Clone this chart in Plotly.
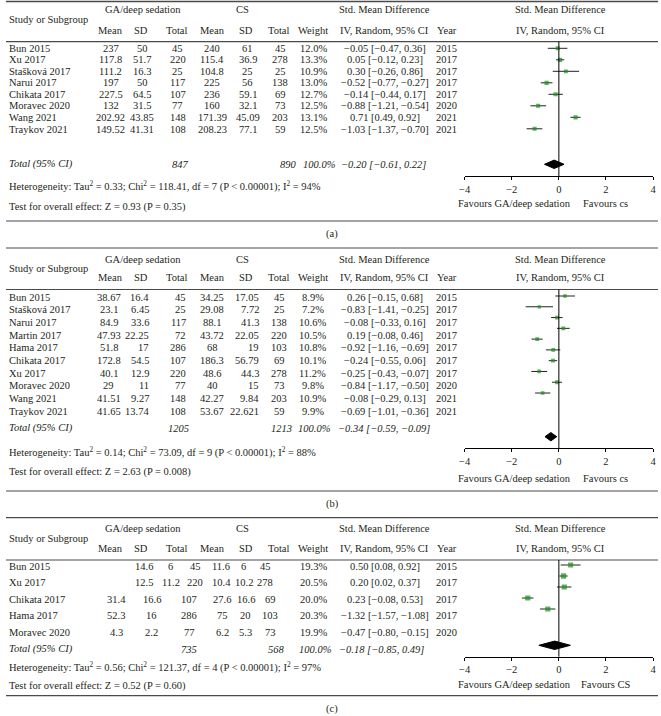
import plotly.graph_objects as go

W, H = 661, 716
FONT = "'Liberation Serif', 'DejaVu Serif', 'Times New Roman', serif"
FS = 10.5
INK = "#231f20"
GREEN = "#1a8f1a"

# ---------------- data: panel (a) ----------------
a_study = ["Bun 2015", "Xu 2017", "Stašková 2017", "Narui 2017", "Chikata 2017",
           "Moravec 2020", "Wang 2021", "Traykov 2021"]
a_ga_mean = ["237", "117.8", "111.2", "197", "227.5", "132", "202.92", "149.52"]
a_ga_sd = ["50", "51.7", "16.3", "50", "64.5", "31.5", "43.85", "41.31"]
a_ga_n = [45, 220, 25, 117, 107, 77, 148, 108]
a_cs_mean = ["240", "115.4", "104.8", "225", "236", "160", "171.39", "208.23"]
a_cs_sd = ["61", "36.9", "25", "56", "59.1", "32.1", "45.09", "77.1"]
a_cs_n = [45, 278, 25, 138, 69, 73, 203, 59]
a_weight = [12.0, 13.3, 10.9, 13.0, 12.7, 12.5, 13.1, 12.5]
a_smd = [-0.05, 0.05, 0.30, -0.52, -0.14, -0.88, 0.71, -1.03]
a_lo = [-0.47, -0.12, -0.26, -0.77, -0.44, -1.21, 0.49, -1.37]
a_hi = [0.36, 0.23, 0.86, -0.27, 0.17, -0.54, 0.92, -0.70]
a_year = [2015, 2017, 2017, 2017, 2017, 2020, 2021, 2021]
a_total_n = [847, 890]
a_total_ci = [-0.20, -0.61, 0.22]
a_het = ["0.33", "118.41", "7", "< 0.00001", "94%"]
a_test = ["0.93", "= 0.35"]
a_favours = ["Favours GA/deep sedation", "Favours cs"]

# ---------------- data: panel (b) ----------------
b_study = ["Bun 2015", "Stašková 2017", "Narui 2017", "Martin 2017", "Hama 2017",
           "Chikata 2017", "Xu 2017", "Moravec 2020", "Wang 2021", "Traykov 2021"]
b_ga_mean = ["38.67", "23.1", "84.9", "47.93", "51.8", "172.8", "40.1", "29", "41.51", "41.65"]
b_ga_sd = ["16.4", "6.45", "33.6", "22.25", "17", "54.5", "12.9", "11", "9.27", "13.74"]
b_ga_n = [45, 25, 117, 72, 286, 107, 220, 77, 148, 108]
b_cs_mean = ["34.25", "29.08", "88.1", "43.72", "68", "186.3", "48.6", "40", "42.27", "53.67"]
b_cs_sd = ["17.05", "7.72", "41.3", "22.05", "19", "56.79", "44.3", "15", "9.84", "22.621"]
b_cs_n = [45, 25, 138, 220, 103, 69, 278, 73, 203, 59]
b_weight = [8.9, 7.2, 10.6, 10.5, 10.8, 10.1, 11.2, 9.8, 10.9, 9.9]
b_smd = [0.26, -0.83, -0.08, 0.19, -0.92, -0.24, -0.25, -0.84, -0.08, -0.69]
b_lo = [-0.15, -1.41, -0.33, -0.08, -1.16, -0.55, -0.43, -1.17, -0.29, -1.01]
b_hi = [0.68, -0.25, 0.16, 0.46, -0.69, 0.06, -0.07, -0.50, 0.13, -0.36]
b_year = [2015, 2017, 2017, 2017, 2017, 2017, 2017, 2020, 2021, 2021]
b_total_n = [1205, 1213]
b_total_ci = [-0.34, -0.59, -0.09]
b_het = ["0.14", "73.09", "9", "< 0.00001", "88%"]
b_test = ["2.63", "= 0.008"]
b_favours = ["Favours GA/deep sedation", "Favours cs"]

# ---------------- data: panel (c) ----------------
c_study = ["Bun 2015", "Xu 2017", "Chikata 2017", "Hama 2017", "Moravec 2020"]
c_ga_mean = ["14.6", "12.5", "31.4", "52.3", "4.3"]
c_ga_sd = ["6", "11.2", "16.6", "16", "2.2"]
c_ga_n = [45, 220, 107, 286, 77]
c_cs_mean = ["11.6", "10.4", "27.6", "75", "6.2"]
c_cs_sd = ["6", "10.2", "16.6", "20", "5.3"]
c_cs_n = [45, 278, 69, 103, 73]
c_weight = [19.3, 20.5, 20.0, 20.3, 19.9]
c_smd = [0.50, 0.20, 0.23, -1.32, -0.47]
c_lo = [0.08, 0.02, -0.08, -1.57, -0.80]
c_hi = [0.92, 0.37, 0.53, -1.08, -0.15]
c_year = [2015, 2017, 2017, 2017, 2020]
c_total_n = [735, 568]
c_total_ci = [-0.18, -0.85, 0.49]
c_het = ["0.56", "121.37", "4", "< 0.00001", "97%"]
c_test = ["0.52", "= 0.60"]
c_favours = ["Favours GA/deep sedation", "Favours CS"]

x_ticks = [-4, -2, 0, 2, 4]
x_range = [-4, 4]


def num(v):
    return f"{v:.2f}".replace("-", "−")


def ci_text(e, lo, hi):
    return f"{num(e)} [{num(lo)}, {num(hi)}]"


fig = go.Figure()
annotations = []
shapes = []


def px(x):
    return x / W


def py(y):
    return 1 - y / H


def txt(x, y, s, anchor="center", italic=False, size=FS):
    if italic:
        s = f"<i>{s}</i>"
    annotations.append(dict(x=px(x), y=py(y), xref="paper", yref="paper", text=s,
                            showarrow=False, xanchor=anchor, yanchor="middle",
                            font=dict(family=FONT, size=size, color=INK), borderpad=0))


def hline(y, width=1.0, color="#4a4a4a"):
    shapes.append(dict(type="line", xref="paper", yref="paper", x0=0, x1=1,
                       y0=py(y), y1=py(y), line=dict(color=color, width=width)))


PLOT_X = (465, 656)

panels = [
    dict(key="a", study=a_study, gm=a_ga_mean, gs=a_ga_sd, gn=a_ga_n, cm=a_cs_mean, cs=a_cs_sd,
         cn=a_cs_n, w=a_weight, e=a_smd, lo=a_lo, hi=a_hi, yr=a_year, tn=a_total_n,
         tci=a_total_ci, het=a_het, test=a_test, fav=a_favours,
         top=1.5, hdr=(9, 19, 30), hline=41.7, row0=48.2, rstep=11.55, tot=164, het_y=186,
         test_y=207, bottom=221, lab=234,
         prow0=48.3, pstep=11.5, pdia=164.3, paxis=176, fav_y=203,
         cols=[("c", 106), ("c", 138), ("c", 174), ("c", 209), ("c", 245), ("c", 278), ("c", 312)],
         tcols=(177, 286, 318, 383), fig_label="(a)"),
    dict(key="b", study=b_study, gm=b_ga_mean, gs=b_ga_sd, gn=b_ga_n, cm=b_cs_mean, cs=b_cs_sd,
         cn=b_cs_n, w=b_weight, e=b_smd, lo=b_lo, hi=b_hi, yr=b_year, tn=b_total_n,
         tci=b_total_ci, het=b_het, test=b_test, fav=b_favours,
         top=248, hdr=(259, 268, 277.5), hline=289.5, row0=297, rstep=12.7, tot=428, het_y=452,
         test_y=472, bottom=491, lab=504,
         prow0=296, pstep=10.78, pdia=436.7, paxis=448.3, fav_y=478,
         cols=[("c", 104), ("r", 146), ("r", 183), ("c", 209), ("r", 257), ("c", 277), ("c", 311)],
         tcols=(175, 279, 313, 383), fig_label="(b)"),
    dict(key="c", study=c_study, gm=c_ga_mean, gs=c_ga_sd, gn=c_ga_n, cm=c_cs_mean, cs=c_cs_sd,
         cn=c_cs_n, w=c_weight, e=c_smd, lo=c_lo, hi=c_hi, yr=c_year, tn=c_total_n,
         tci=c_total_ci, het=c_het, test=c_test, fav=c_favours,
         top=517.7, hdr=(528, 538, 548), hline=560, row0=566, rstep=16.5, tot=649, het_y=667,
         test_y=686, bottom=695.7, lab=709,
         prow0=565, pstep=11, pdia=645.3, paxis=656.7, fav_y=684,
         cols=[("c", 112), ("c", 148), ("c", 186), ("c", 219), ("c", 243), ("c", 268), ("c", 312)],
         cols_alt=[("c", 140), ("c", 167), ("c", 192), ("c", 218), ("c", 241), ("c", 263), ("c", 312)],
         tcols=(186, 274, 314, 381), fig_label="(c)"),
]

for k, P in enumerate(panels, start=1):
    # rules
    hline(P["top"], width=1.6 if k == 1 else 1.2)
    hline(P["hline"], width=1.2)
    hline(P["bottom"], width=1.2)
    # header
    h1, h2, h3 = P["hdr"]
    txt(2, h2, "Study or Subgroup", "left")
    txt(139, h1, "GA/deep sedation")
    txt(240, h1, "CS")
    for lbl, x in zip(["Mean", "SD", "Total", "Mean", "SD", "Total", "Weight"],
                      [106, 137, 173, 209, 243, 277, 311]):
        txt(x, h3, lbl)
    txt(384, h1, "Std. Mean Difference")
    txt(384, h3, "IV, Random, 95% CI")
    txt(447, h3, "Year")
    txt(562, h1, "Std. Mean Difference")
    txt(562, h3, "IV, Random, 95% CI")

    # rows
    n = len(P["study"])
    for i in range(n):
        y = P["row0"] + i * P["rstep"]
        txt(2, y, P["study"][i], "left")
        cells = [P["gm"][i], P["gs"][i], str(P["gn"][i]), P["cm"][i], P["cs"][i],
                 str(P["cn"][i]), f"{P['w'][i]:.1f}%"]
        cols = P["cols"]
        if "cols_alt" in P and i < 2:
            cols = P["cols_alt"]
        for (al, x), s in zip(cols, cells):
            if al == "r":
                txt(x, y, s, "right")
            else:
                txt(x, y, s)
        txt(384, y, ci_text(P["e"][i], P["lo"][i], P["hi"][i]))
        txt(447, y, str(P["yr"][i]))

    # total row
    t1, t2, t3, t4 = P["tcols"]
    txt(2, P["tot"], "Total (95% CI)", "left", italic=True)
    txt(t1, P["tot"], str(P["tn"][0]), italic=True)
    txt(t2, P["tot"], str(P["tn"][1]), italic=True)
    txt(t3, P["tot"], "100.0%", italic=True)
    txt(t4, P["tot"], ci_text(*P["tci"]), italic=True)

    het = P["het"]
    txt(2, P["het_y"],
        f"Heterogeneity: Tau<sup>2</sup> = {het[0]}; Chi<sup>2</sup> = {het[1]}, df = {het[2]} "
        f"(P {het[3]}); I<sup>2</sup> = {het[4]}", "left")
    txt(2, P["test_y"], f"Test for overall effect: Z = {P['test'][0]} (P {P['test'][1]})", "left")

    txt(516, P["fav_y"], P["fav"][0])
    txt(608, P["fav_y"], P["fav"][1])
    txt(330.5, P["lab"], P["fig_label"])

    # forest plot axes
    xa = "x" if k == 1 else f"x{k}"
    ya = "y" if k == 1 else f"y{k}"
    step = P["pstep"]
    idx_top = (P["hline"] - P["prow0"]) / step
    idx_bot = (P["paxis"] - P["prow0"]) / step
    idx_dia = (P["pdia"] - P["prow0"]) / step
    half = 4.2 / step

    ci_x, ci_y = [], []
    for i in range(n):
        ci_x += [P["lo"][i], P["hi"][i], None]
        ci_y += [i, i, None]
    fig.add_trace(go.Scatter(x=ci_x, y=ci_y, mode="lines", xaxis=xa, yaxis=ya,
                             line=dict(color="#222222", width=1), hoverinfo="skip",
                             showlegend=False))
    fig.add_trace(go.Scatter(x=P["e"], y=list(range(n)), mode="markers", xaxis=xa, yaxis=ya,
                             marker=dict(symbol="square", color=GREEN,
                                         size=[2.2 + 0.15 * w for w in P["w"]],
                                         line=dict(width=0)),
                             showlegend=False))
    est, lo, hi = P["tci"]
    fig.add_trace(go.Scatter(x=[lo, est, hi, est, lo],
                             y=[idx_dia, idx_dia - half, idx_dia, idx_dia + half, idx_dia],
                             mode="lines", fill="toself", fillcolor="black",
                             line=dict(color="black", width=1), xaxis=xa, yaxis=ya,
                             showlegend=False))
    shapes.append(dict(type="line", xref=xa, yref=f"{ya} domain", x0=0, x1=0, y0=0, y1=1,
                       line=dict(color="black", width=1)))

    xkey = "xaxis" if k == 1 else f"xaxis{k}"
    ykey = "yaxis" if k == 1 else f"yaxis{k}"
    fig.update_layout({
        xkey: dict(domain=[PLOT_X[0] / W, PLOT_X[1] / W], range=x_range, anchor=ya,
                   tickvals=x_ticks, ticks="outside", ticklen=3, tickcolor="black",
                   showline=True, linecolor="black", linewidth=1, showgrid=False,
                   zeroline=False, tickfont=dict(family=FONT, size=FS, color=INK)),
        ykey: dict(domain=[py(P["paxis"]), py(P["hline"])], range=[idx_bot, idx_top],
                   anchor=xa, visible=False, showgrid=False, zeroline=False),
    })

fig.update_layout(width=W, height=H, margin=dict(l=0, r=0, t=0, b=0),
                  paper_bgcolor="white", plot_bgcolor="white",
                  font=dict(family=FONT, size=FS, color=INK),
                  annotations=annotations, shapes=shapes, showlegend=False)

fig.write_html("out.html", config={"displayModeBar": False},
               post_script="document.body.style.margin='0';")
